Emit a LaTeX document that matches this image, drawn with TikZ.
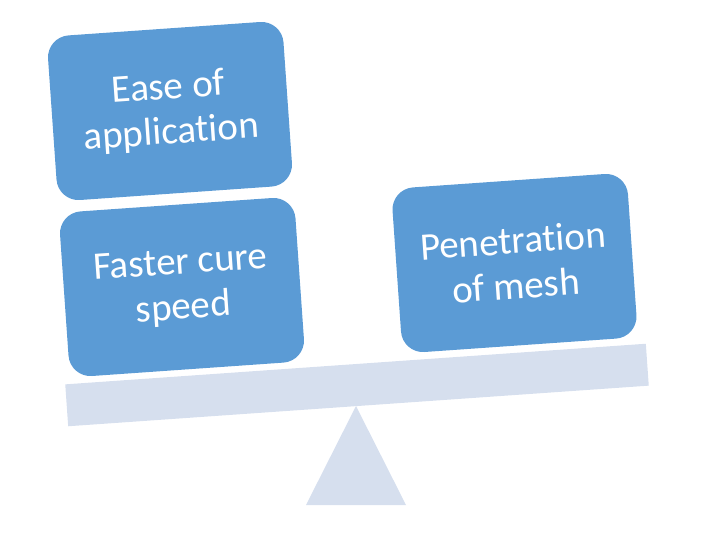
\documentclass[tikz,border=0pt]{standalone}
\usepackage{fontspec}
\setmainfont[Ligatures=NoCommon]{Carlito}
\usetikzlibrary{positioning}
\definecolor{boxblue}{HTML}{5B9BD5}
\definecolor{beamgray}{HTML}{D6DFEE}

\begin{document}
\begin{tikzpicture}[x=1pt,y=-1pt,
  weight/.style={rectangle,rounded corners=22pt,fill=boxblue,draw=none,text=white,rotate=4,
    minimum width=236pt,minimum height=165pt,align=center,font=\fontsize{39}{45}\selectfont},
  plank/.style={rectangle,fill=beamgray,draw=none,rotate=4,minimum width=582pt,minimum height=42pt,inner sep=0pt}]
\useasboundingbox (0,0) rectangle (712,538);
% beam and fulcrum
\node[plank] (beam) at (357,385) {};
\fill[beamgray] (306,505) -- (406,505) -- (356,406) -- cycle;
% weights
\node[weight] (ease) at (170,111) {Ease of\\application};
\node[weight] (cure) at (182,287) {Faster cure\\speed};
\node[weight] (mesh) at (514.5,263) {Penetration\\of mesh};
\end{tikzpicture}
\end{document}
